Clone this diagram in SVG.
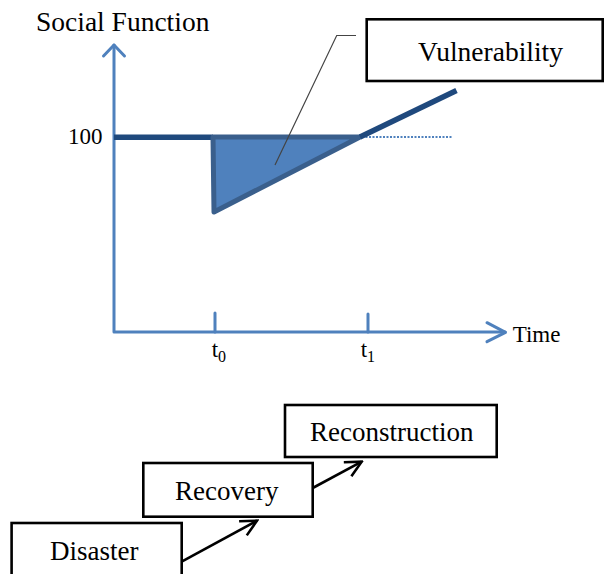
<svg xmlns="http://www.w3.org/2000/svg" width="606" height="574" viewBox="0 0 606 574">
<style>
.t{font-family:"Liberation Serif","Times New Roman",serif;fill:#000}
.box{fill:#fff;stroke:#000;stroke-width:2.6}
.axis{fill:none;stroke:#4f81bd;stroke-width:3;stroke-linecap:round;stroke-linejoin:round}
.arr{fill:none;stroke:#000;stroke-width:2.6}
</style>
<defs>
<marker id="ah" viewBox="0 0 20 20" refX="18" refY="10" markerWidth="20" markerHeight="20" markerUnits="userSpaceOnUse" orient="auto">
<path d="M2,2 L18,10 L2,18" fill="none" stroke="#000" stroke-width="2.6"/>
</marker>
</defs>
<rect width="606" height="574" fill="#fff"/>
<text class="t" x="36" y="31" font-size="27.5">Social Function</text>
<g id="chart">
<path class="axis" d="M114,45 L114,332 L505,332"/>
<path class="axis" d="M103.5,56 L114,45 L124.5,56"/>
<path class="axis" d="M487,322.7 L505.5,332.3 L487,341.7"/>
<path class="axis" d="M215,313 L215,332 M368,314 L368,332"/>
<line x1="362" y1="137" x2="453" y2="137" stroke="#4f81bd" stroke-width="2" stroke-dasharray="2,1.5"/>
<line x1="114" y1="137.3" x2="213" y2="137.3" stroke="#1f497d" stroke-width="5.5"/>
<polygon points="213,137 360,137 214,212" fill="#4f81bd" stroke="#3a5f8c" stroke-width="5" stroke-linejoin="round"/>
<line x1="360" y1="137" x2="456.5" y2="90.5" stroke="#1f497d" stroke-width="5.5"/>
<text class="t" x="68" y="144.3" font-size="23">100</text>
<text class="t" x="512.7" y="342.3" font-size="23">Time</text>
<text class="t" x="211.7" y="357" font-size="23">t<tspan font-size="16" dy="4.5">0</tspan></text>
<text class="t" x="360.7" y="357" font-size="23">t<tspan font-size="16" dy="4.5">1</tspan></text>
</g>
<g id="connectors">
<polyline points="275,165 336.7,35.5 356,35.5" fill="none" stroke="#444" stroke-width="1.2"/>
<line class="arr" x1="181.7" y1="561.7" x2="257" y2="520.7" marker-end="url(#ah)"/>
<line class="arr" x1="312.7" y1="488" x2="361.7" y2="461.7" marker-end="url(#ah)"/>
</g>
<g id="vulnerability">
<rect class="box" x="366.7" y="19.3" width="236" height="61.7"/>
<text class="t" x="418" y="60.7" font-size="27.5">Vulnerability</text>
</g>
<g id="reconstruction">
<rect class="box" x="285" y="405" width="211.7" height="52"/>
<text class="t" x="310" y="440.7" font-size="27">Reconstruction</text>
</g>
<g id="recovery">
<rect class="box" x="143.3" y="463" width="169.4" height="53.7"/>
<text class="t" x="175" y="500" font-size="27">Recovery</text>
</g>
<g id="disaster">
<rect class="box" x="11.6" y="523" width="170.1" height="60"/>
<text class="t" x="50" y="560" font-size="27">Disaster</text>
</g>
</svg>
